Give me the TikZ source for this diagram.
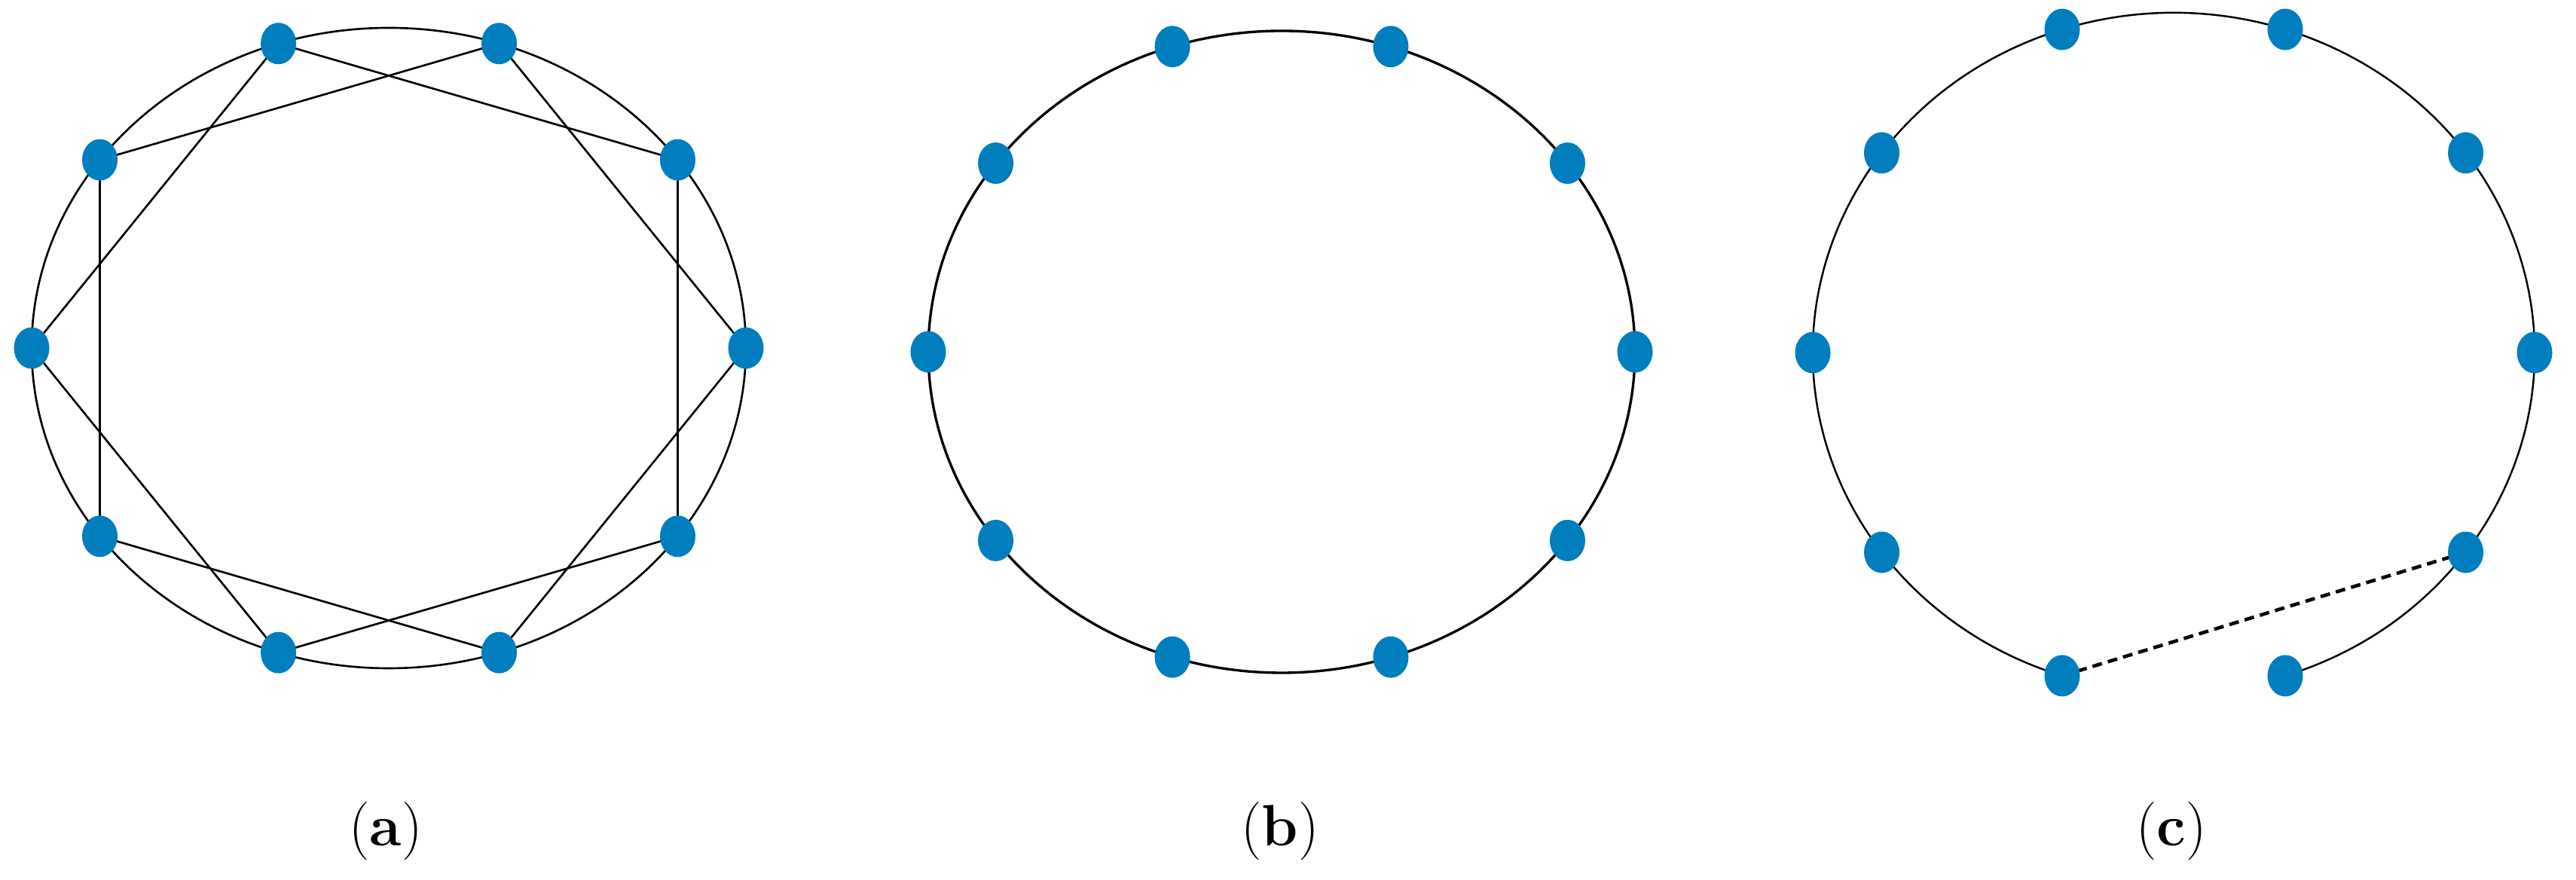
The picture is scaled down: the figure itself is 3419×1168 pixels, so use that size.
\documentclass[tikz,border=0pt]{standalone}
\usepackage{xcolor}
\usetikzlibrary{shapes.geometric,backgrounds}
\definecolor{nodeblue}{RGB}{0,126,189}
\tikzset{
  vertex/.style={ellipse,fill=nodeblue,draw=none,inner sep=0pt,
    minimum width=0.47cm,minimum height=0.55cm},
  ring/.style={black,line width=0.8pt},
  chord/.style={black,line width=0.75pt},
  cutedge/.style={black,line width=1.3pt,dash pattern=on 3.7pt off 2.3pt},
  caption/.style={anchor=base,font=\fontsize{22}{26}\selectfont}
}

\begin{document}
\begin{tikzpicture}[x=0.01cm,y=0.01cm]
			\useasboundingbox (0,0) rectangle (3419,1168);
			% (a) ring with chords
			\foreach \i in {0,...,9}
				\node[vertex] (a\i) at ({516+474*cos(36*\i)},{706+425*sin(36*\i)}) {};
			\begin{scope}[on background layer]
				\draw[ring,line width=0.75pt] (a0.center) arc[start angle=0,end angle=360,x radius=474,y radius=425];
				\foreach \i in {0,...,9}{
					\pgfmathtruncatemacro\j{mod(\i+2,10)}
					\draw[chord] (a\i.center) -- (a\j.center);
				}
			\end{scope}
			% (b) plain ring
			\foreach \i in {0,...,9}
				\node[vertex] (b\i) at ({1701+469*cos(36*\i)},{701+426*sin(36*\i)}) {};
			\begin{scope}[on background layer]
				\draw[ring,line width=0.95pt] (b0.center) arc[start angle=0,end angle=360,x radius=469,y radius=426];
			\end{scope}
			% (c) ring cut at the bottom
			\foreach \i in {0,...,9}
				\node[vertex] (c\i) at ({2885+479*cos(36*\i)},{700+451*sin(36*\i)}) {};
			\begin{scope}[on background layer]
				\draw[ring,line width=0.7pt] (c8.center) arc[start angle=288,end angle=612,x radius=479,y radius=451];
				\draw[cutedge] (c7.center) -- (c9.center);
			\end{scope}
			% captions
			\node[caption] (capa) at (512,45) {(\textbf{a})};
			\node[caption] (capb) at (1699,45) {(\textbf{b})};
			\node[caption] (capc) at (2882,45) {(\textbf{c})};
		\end{tikzpicture}
\end{document}
